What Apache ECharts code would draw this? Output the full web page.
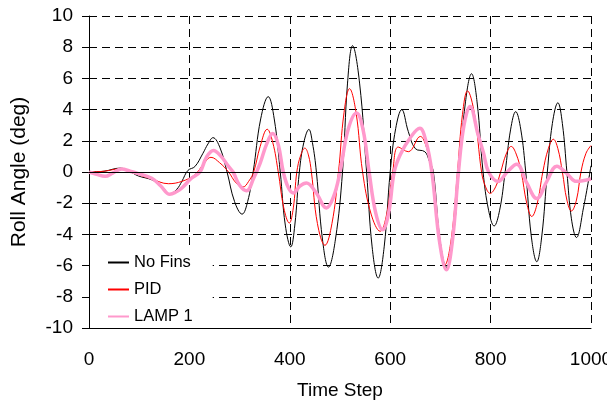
<!DOCTYPE html>
<html><head><meta charset="utf-8">
<script src="https://cdn.jsdelivr.net/npm/echarts@6/dist/echarts.min.js"></script>
<style>html,body{margin:0;padding:0;background:#fff}#c{width:607px;height:404px}</style>
</head><body><div id="c"></div><script>
const xLabels = [0, 200, 400, 600, 800, 1000];
const yLabels = [-10, -8, -6, -4, -2, 0, 2, 4, 6, 8, 10];
const seriesNames = ['No Fins', 'PID', 'LAMP 1'];

const noFins = [
 [0,0],[30,0.05],[62,0.25],[80,0.05],[98,-0.25],[125,-0.5],[145,-0.9],[161,-1.4],[175,-1.1],[185,-0.6],
 [197,0.1],[211,0.35],[227,1.2],[237,1.8],[247,2.2],[261,1.55],[275,0],[290,-1.9],[305,-2.7],[316,-1.9],
 [327,0],[342,3.4],[357,4.83],[369,3.4],[381,0],[391,-3.4],[402,-4.8],[410,-3.4],[419,0],[428,1.9],
 [438,2.73],[445,1.9],[453,0],[465,-4.3],[477,-6.1],[491,-4.3],[505,0],[515,5.7],[525,8.1],[539,5.7],
 [553,0],[564,-4.8],[576,-6.8],[588,-4.8],[600,0],[611,2.8],[623,4.0],[636,2.6],[650,1.5],[669,1.3],
 [678,0.7],[686,0],[699,-4.3],[712,-6.1],[725,-4.3],[737,0],[750,4.5],[762,6.3],[773,4.5],[785,0],
 [796,-2.45],[807,-3.46],[818,-2.45],[829,0],[840,2.75],[850,3.87],[860,2.75],[870,0],[881,-4.1],[892,-5.75],
 [902,-4.1],[913,0],[923,3.1],[934,4.44],[943,3.1],[952,0],[961,-3.0],[971,-4.2],[985,-2.3],[1000,0.4]
];
const pid = [
 [0,0],[30,0.05],[62,0.2],[80,0.05],[98,-0.17],[125,-0.45],[158,-0.75],[185,-0.6],[211,-0.17],[228,0.5],
 [243,0.94],[260,0.6],[278,0],[293,-0.7],[307,-0.96],[318,-0.6],[328,0],[341,1.64],[355,2.74],[366,1.9],
 [377,0],[388,-2.3],[399,-3.27],[407,-2.3],[414,0],[422,1.1],[430,1.53],[437,1.1],[443,0],[455,-3.3],
 [470,-4.7],[484,-3.3],[497,0],[508,3.8],[519,5.34],[532,3.8],[545,0],[562,-2.7],[580,-3.8],[593,-2.7],
 [605,0],[616,1.6],[636,1.3],[660,2.28],[672,1.6],[684,0],[697,-4.2],[709,-5.95],[722,-4.2],[734,0],
 [744,3.7],[754,5.2],[768,3.7],[782,0],[790,-0.95],[799,-1.37],[810,-0.95],[820,0],[831,1.15],[841,1.64],
 [851,1.15],[861,0],[872,-2.0],[882,-2.85],[893,-2.0],[904,0],[915,1.5],[925,2.1],[934,1.5],[943,0],
 [952,-1.8],[961,-2.5],[971,-1.8],[980,0],[990,1.2],[1000,1.7]
];
const lamp1 = [
 [0,0],[15,-0.15],[32,-0.28],[48,-0.05],[65,0.19],[82,0.05],[98,-0.1],[125,-0.4],[143,-0.9],[161,-1.43],
 [175,-1.25],[185,-1.03],[204,-0.4],[221,0],[234,0.95],[248,1.38],[263,1.0],[278,0.36],[287,0],[300,-0.85],
 [314,-1.2],[328,-0.4],[341,0.57],[354,1.8],[366,2.47],[377,1.75],[387,0],[397,-1.0],[407,-1.35],[420,-0.9],
 [433,-0.7],[452,-1.3],[473,-2.3],[487,-1.6],[500,0],[516,2.7],[533,3.78],[546,2.7],[558,0],[571,-2.6],
 [585,-3.7],[597,-2.6],[608,0],[620,1.1],[640,2.2],[659,2.8],[671,2.0],[683,0],[698,-4.4],[712,-6.27],
 [724,-4.4],[736,0],[747,3.0],[759,4.2],[775,2.4],[786,1.2],[796,0],[815,-0.6],[833,0],[852,0.5],
 [872,-0.7],[892,-1.7],[912,-0.6],[932,0.37],[952,-0.1],[971,-0.6],[1000,-0.45]
];

const FONT = 'Liberation Sans';
const chart = echarts.init(document.getElementById('c'), null, {renderer: 'canvas'});
chart.setOption({
  animation: false,
  backgroundColor: '#fff',
  grid: {left: 89, right: 16, top: 16, bottom: 76, containLabel: false, outerBoundsMode: 'none'},
  legend: {
    orient: 'vertical', left: 90, top: 250,
    backgroundColor: '#fff',
    padding: [4, 20, 2, 17],
    itemWidth: 21, itemHeight: 10, itemGap: 10,
    itemStyle: {opacity: 0},
    textStyle: {fontSize: 16.5, fontFamily: FONT, color: '#000', lineHeight: 16},
    data: seriesNames
  },
  xAxis: [{
    type: 'value', min: xLabels[0], max: xLabels[xLabels.length - 1], interval: 200,
    name: 'Time Step', nameLocation: 'middle', nameGap: 53,
    nameTextStyle: {fontSize: 19, fontFamily: FONT, color: '#000'},
    axisLine: {onZero: false, lineStyle: {color: '#000', width: 1}},
    axisTick: {show: false},
    axisLabel: {fontSize: 19, fontFamily: FONT, color: '#000', margin: 22, formatter: v => String(v)},
    splitLine: {show: true, lineStyle: {color: '#000', type: [8, 5], width: 1}}
  }, {
    type: 'value', position: 'top', min: 0, max: 1000,
    axisLine: {show: true, lineStyle: {color: '#000', width: 1}},
    axisTick: {show: false}, axisLabel: {show: false}, splitLine: {show: false}
  }],
  yAxis: {
    type: 'value', min: yLabels[0], max: yLabels[yLabels.length - 1], interval: 2,
    name: 'Roll Angle (deg)', nameLocation: 'middle', nameGap: 59,
    nameTextStyle: {fontSize: 21, fontFamily: FONT, color: '#000'},
    axisLine: {show: true, onZero: false, lineStyle: {color: '#000', width: 1}},
    axisTick: {show: true, inside: false, length: 7, lineStyle: {color: '#000'}},
    axisLabel: {fontSize: 19, fontFamily: FONT, color: '#000', margin: 16, formatter: v => String(v)},
    splitLine: {show: true, lineStyle: {color: '#000', type: [8, 5], width: 1}}
  },
  series: [
    {name: seriesNames[0], type: 'line', data: noFins, smooth: 0.4, symbol: 'none',
     lineStyle: {color: '#000', width: 1}, itemStyle: {color: '#000'},
     markLine: {silent: true, symbol: ['none', 'none'], label: {show: false},
       lineStyle: {color: '#000', type: 'solid', width: 1}, data: [{yAxis: 0}]}},
    {name: seriesNames[1], type: 'line', data: pid, smooth: 0.4, symbol: 'none',
     lineStyle: {color: '#ff0000', width: 1}, itemStyle: {color: '#ff0000'}},
    {name: seriesNames[2], type: 'line', data: lamp1, smooth: 0.4, symbol: 'none',
     lineStyle: {color: '#ff99cc', width: 3.5}, itemStyle: {color: '#ff99cc'}}
  ]
});
</script></body></html>
